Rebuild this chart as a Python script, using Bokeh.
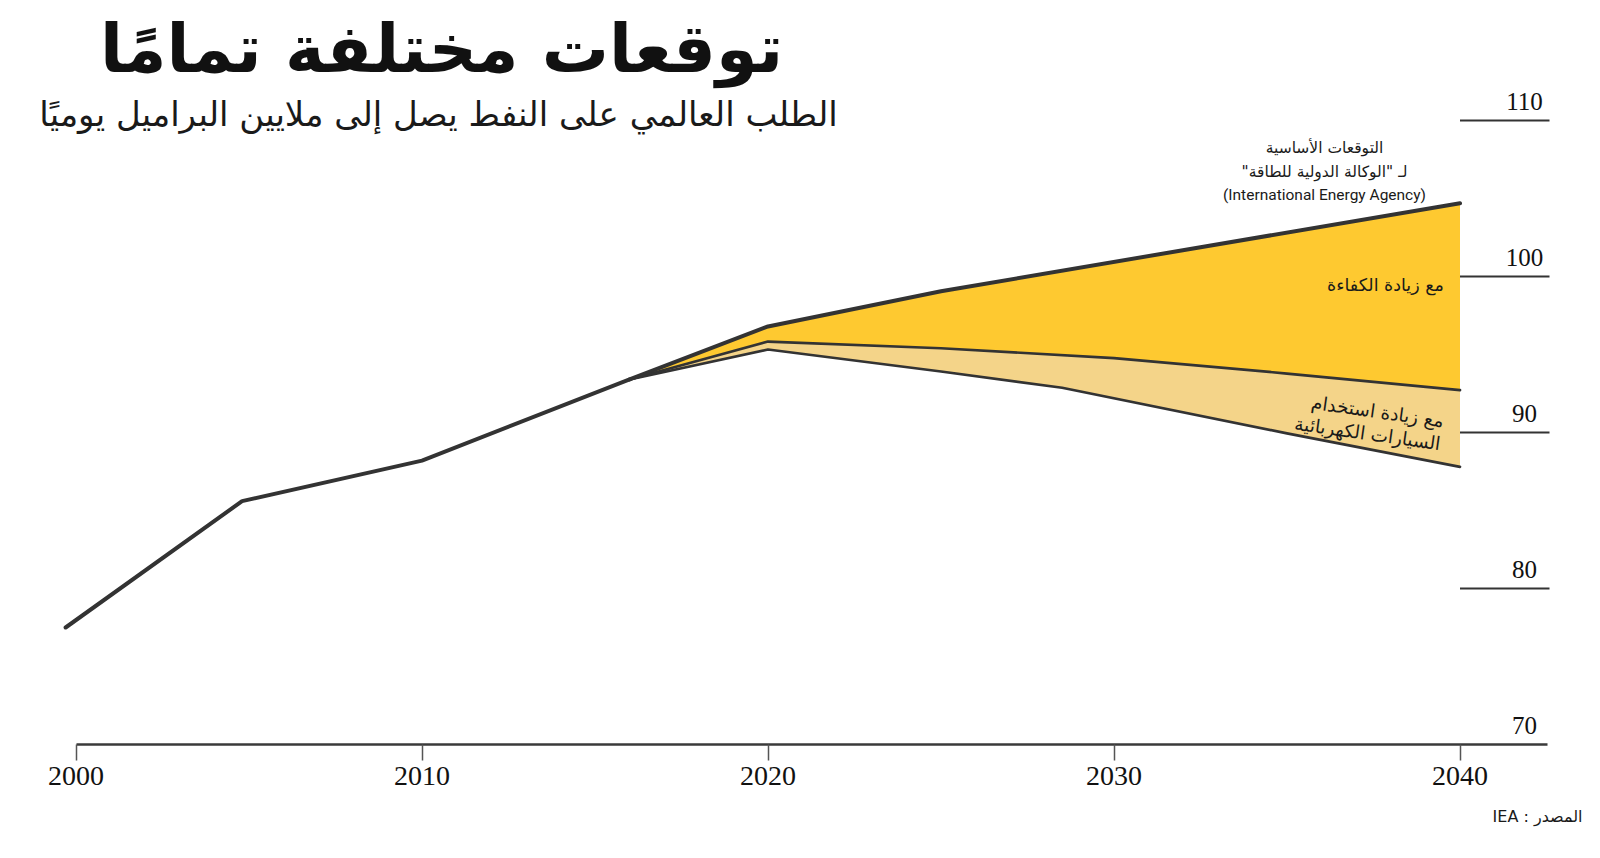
from bokeh.plotting import figure
from bokeh.models import Range1d, FixedTicker, Label, ColumnDataSource, Title
from bokeh.embed import file_html
from bokeh.resources import INLINE
from bokeh.core.properties import value

# ---------------- data ----------------
hist_years = [1999.7, 2004.8, 2010, 2016]
hist_demand = [77.5, 85.6, 88.2, 93.4]

base_years = [2016, 2020, 2025, 2040]
base_demand = [93.4, 96.8, 99.05, 104.7]

eff_years = [2016, 2020, 2025, 2030, 2035, 2040]
eff_demand = [93.4, 95.83, 95.4, 94.77, 93.78, 92.72]

ev_years = [2016, 2020, 2025, 2028.5, 2035, 2040]
ev_demand = [93.4, 95.32, 93.91, 92.87, 89.94, 87.8]

x_ticks = [2000, 2010, 2020, 2030, 2040]
y_ticks = [70, 80, 90, 100, 110]
y_tick_lines = [80, 90, 100, 110]

RLE, PDF = "\u202b", "\u202c"
title_text = "توقعات مختلفة تمامًا"
subtitle_text = "الطلب العالمي على النفط يصل إلى ملايين البراميل يوميًا"
base_note = ["التوقعات الأساسية", "لـ \"الوكالة الدولية للطاقة\"", "(International Energy Agency)"]
eff_note = "مع زيادة الكفاءة"
ev_note = ["مع زيادة استخدام", "السيارات الكهربائية"]
source_text = "المصدر : IEA"

# ---------------- layout ----------------
W, H = 1584, 842
FRAME_H = 744
X0_PX, PX_PER_YEAR = 75.5, 34.6
PX_PER_UNIT = 15.6
Y0 = 70


def xd(px):
    return 2000 + (px - X0_PX) / PX_PER_YEAR


def yd(py):
    return Y0 + (FRAME_H - py) / PX_PER_UNIT


def rtl(s):
    return RLE + s + PDF


ARABIC = "DejaVu Sans"
INK = "#333333"
YELLOW = "#FEC930"
LIGHT = "#F4D489"

p = figure(width=W, height=H, output_backend="svg", toolbar_location=None,
           x_range=Range1d(xd(0), xd(W)), y_range=Range1d(yd(FRAME_H), yd(0)),
           y_axis_location=None, min_border_left=0, min_border_right=0,
           min_border_top=0, min_border_bottom=H - FRAME_H)
p.outline_line_color = None
p.grid.visible = False
p.background_fill_color = "white"
p.border_fill_color = "white"

# x axis
ax = p.xaxis[0]
ax.ticker = FixedTicker(ticks=x_ticks)
ax.bounds = (2000, xd(1547))
ax.axis_line_color = "#3a3a3a"
ax.axis_line_width = 2.5
ax.major_tick_line_color = "#555555"
ax.major_tick_line_width = 1.5
ax.major_tick_out = 16
ax.major_tick_in = 0
ax.minor_tick_line_color = None
ax.major_label_text_font = "Liberation Serif"
ax.major_label_text_font_size = "28px"
ax.major_label_text_color = "#111111"
ax.major_label_standoff = 6

# source line below the axis
src_title = Title(text=rtl(source_text), align="right", offset=2, standoff=34,
                  text_font=ARABIC, text_font_size="16px", text_color="#1a1a1a",
                  text_font_style="normal")
p.add_layout(src_title, "below")

# areas
p.patch(base_years + eff_years[::-1], base_demand + eff_demand[::-1],
        fill_color=YELLOW, line_color=None)
p.patch(eff_years + ev_years[::-1], eff_demand + ev_demand[::-1],
        fill_color=LIGHT, line_color=None)

# lines
p.line(ev_years, ev_demand, line_color=INK, line_width=2.7, line_cap="round", line_join="round")
p.line(eff_years, eff_demand, line_color=INK, line_width=2.7, line_cap="round", line_join="round")
p.line(base_years, base_demand, line_color=INK, line_width=4, line_cap="round", line_join="round")
p.line(hist_years, hist_demand, line_color=INK, line_width=4, line_cap="round", line_join="round")

# right-side value scale
tick_src = ColumnDataSource(dict(
    y=y_tick_lines,
    x0=[x_ticks[-1]] * len(y_tick_lines),
    x1=[xd(1549)] * len(y_tick_lines),
))
p.segment(x0="x0", y0="y", x1="x1", y1="y", source=tick_src, line_color=INK, line_width=2)
label_lift = 19.5 / PX_PER_UNIT
p.text(x=[xd(1524)] * len(y_ticks), y=[v + label_lift for v in y_ticks],
       text=[str(v) for v in y_ticks],
       text_font=value("Liberation Serif"), text_font_size="25px", text_color="#111111",
       text_align="center", text_baseline="middle")

# titles
p.add_layout(Label(x=xd(441), y=yd(48), text=rtl(title_text), text_font=ARABIC,
                   text_font_style="bold", text_font_size="67px", text_color="#111111",
                   text_align="center", text_baseline="middle"))
p.add_layout(Label(x=xd(438), y=yd(113), text=rtl(subtitle_text), text_font=ARABIC,
                   text_font_size="34px", text_color="#1a1a1a",
                   text_align="center", text_baseline="middle"))

# annotations
for i, (s, py) in enumerate(zip(base_note, [147, 171, 194])):
    p.add_layout(Label(x=xd(1324), y=yd(py),
                       text=(s if i == 2 else rtl(s)),
                       text_font=("Roboto" if i == 2 else ARABIC),
                       text_font_size="15.5px", text_color="#1a1a1a",
                       text_align="center", text_baseline="middle"))

p.add_layout(Label(x=xd(1385), y=yd(284), text=rtl(eff_note), text_font=ARABIC,
                   text_font_size="17.5px", text_color="#1a1a1a",
                   text_align="center", text_baseline="middle"))

for s, (px, py) in zip(ev_note, [(1377, 411), (1367, 433)]):
    p.add_layout(Label(x=xd(px), y=yd(py), text=rtl(s), text_font=ARABIC,
                       text_font_size="18.5px", text_color="#1a1a1a", angle=-0.14,
                       text_align="center", text_baseline="middle"))

open("out.html", "w").write(file_html(p, INLINE))
